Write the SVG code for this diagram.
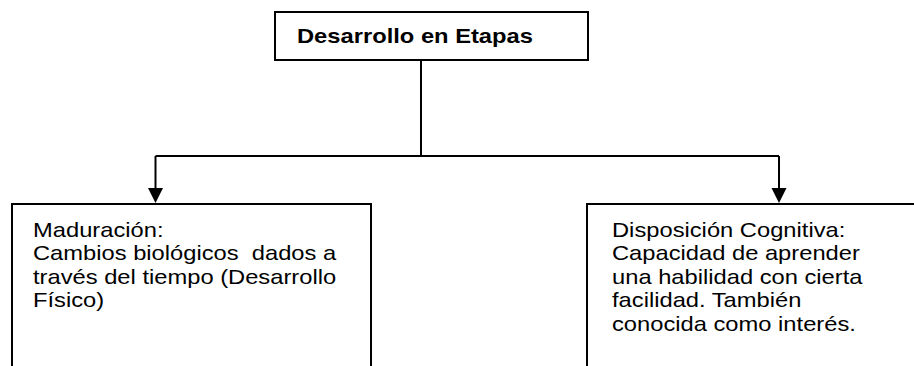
<svg xmlns="http://www.w3.org/2000/svg" width="914" height="366" viewBox="0 0 914 366">
<style>
.box{fill:#fff;stroke:#000;stroke-width:2}
.t{font-family:"Liberation Sans",Arial,sans-serif;font-size:21px;fill:#000}
.b{font-weight:bold}
.ln{fill:none;stroke:#000;stroke-width:2}
.ah{fill:#000}
</style>
<rect width="914" height="366" fill="#fff"/>
<g id="connectors">
<polyline class="ln" points="421,60 421,156"/>
<polyline class="ln" points="155.5,156 779,156"/>
<polyline class="ln" points="155.5,156 155.5,190"/>
<polyline class="ln" points="779,156 779,190"/>
<polygon class="ah" points="148,188 163,188 155.5,203"/>
<polygon class="ah" points="771.5,188 786.5,188 779,203"/>
</g>
<g id="node-top">
<rect class="box" x="275" y="12" width="313" height="48"/>
<text class="t b" transform="matrix(1.13 0 0 1 297 43)">Desarrollo en Etapas</text>
</g>
<g id="node-maduracion">
<rect class="box" x="12" y="204" width="359" height="180"/>
<g transform="matrix(1.13 0 0 1 33 0)">
<text class="t" x="0" y="237">Maduración:</text>
<text class="t" x="0" y="260.5" xml:space="preserve">Cambios biológicos  dados a</text>
<text class="t" x="0" y="284">través del tiempo (Desarrollo</text>
<text class="t" x="0" y="307.5">Físico)</text>
</g>
</g>
<g id="node-disposicion">
<rect class="box" x="587" y="204" width="340" height="180"/>
<g transform="matrix(1.13 0 0 1 612 0)">
<text class="t" x="0" y="237">Disposición Cognitiva:</text>
<text class="t" x="0" y="260.5">Capacidad de aprender</text>
<text class="t" x="0" y="284">una habilidad con cierta</text>
<text class="t" x="0" y="307.5">facilidad. También</text>
<text class="t" x="0" y="331">conocida como interés.</text>
</g>
</g>
</svg>
